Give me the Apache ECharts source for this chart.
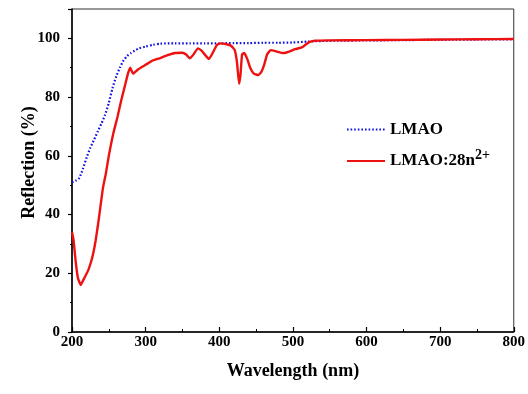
<!DOCTYPE html>
<html><head><meta charset="utf-8">
<script src="https://cdn.jsdelivr.net/npm/echarts@6/dist/echarts.min.js"></script>
<style>html,body{margin:0;padding:0;background:#fff}#c{width:528px;height:394px}</style>
</head><body><div id="c"></div>
<script>
var lmaoWl = [200,205,210,215,220,225,230,235,240,245,250,255,260,265,270,275,280,285,290,300,310,320,340,360,380,400,420,440,460,480,500,520,540,560,600,650,700,750,800];
var lmaoVal = [51.0,51.5,52.5,55.7,59.5,62.8,65.5,68.3,71,74,78,83,87,90,92.5,94,95,95.8,96.5,97.2,97.8,98.2,98.3,98.3,98.3,98.3,98.4,98.4,98.5,98.5,98.6,98.9,99.1,99.2,99.3,99.4,99.5,99.6,99.7];
var znWl = [200,202,205,208,212,215,218,222,226,229,232,235,238,242,246,250,256,262,267,272,276,279,283,290,300,310,320,330,340,350,355,360,365,371,376,382,386,392,397,402,410,416,421,424,427,429,431,434,438,442,447,453,457,461,465,470,478,487,495,503,513,518,523,530,550,600,650,700,750,800];
var znVal = [34,31.5,24,18.5,16,17.5,19,21,24,27,31,36,41.5,49,54,60,67.5,73.5,79,84,88,90,88,89.5,91,92.5,93.3,94.3,95,95.1,94.5,93.2,94.5,96.6,95.8,94,93,95.5,97.8,98.3,98,97.5,96,92,84.5,88,94.5,95,93,90,88,87.5,88.5,91,94.5,96,95.5,95,95.5,96.3,97,98,98.8,99.2,99.3,99.4,99.5,99.6,99.7,99.8];
var seriesNames = ['LMAO','LMAO:28n'];

function pairs(xs, ys){ return xs.map(function(x,i){return [x, ys[i]];}); }
var font = 'Liberation Serif';
var chart = echarts.init(document.getElementById('c'));
chart.setOption({
  animation:false,
  backgroundColor:'#fff',
  grid:{left:72,right:14,top:9,bottom:62,show:true,borderColor:'#333',borderWidth:1},
  legend:{
    orient:'vertical', left:341, top:116, itemWidth:38, itemHeight:10, itemGap:10,
    data:seriesNames,
    itemStyle:{opacity:0},
    textStyle:{fontFamily:font,fontWeight:'bold',fontSize:17,color:'#000',
      rich:{a:{fontFamily:font,fontWeight:'bold',fontSize:17,color:'#000'},
            s:{fontFamily:font,fontWeight:'bold',fontSize:14,color:'#000',verticalAlign:'top',padding:[0,0,12,0]}}},
    formatter:function(n){ return n==='LMAO:28n' ? '{a|LMAO:28n}{s|2+}' : '{a|'+n+'}'; }
  },
  xAxis:{type:'value',min:200,max:800,interval:100,
    name:'Wavelength (nm)',nameLocation:'middle',nameGap:30,nameMoveOverlap:false,
    nameTextStyle:{fontFamily:font,fontWeight:'bold',fontSize:18,color:'#000'},
    axisLine:{lineStyle:{color:'#000',width:1.5}},
    axisTick:{inside:true,length:5,lineStyle:{color:'#000',width:1.2}},
    minorTick:{show:true,splitNumber:2,length:3,lineStyle:{color:'#000'}},
    axisLabel:{fontFamily:font,fontWeight:'bold',fontSize:15,color:'#000',margin:3},
    splitLine:{show:false}},
  yAxis:{type:'value',min:0,max:110,interval:20,
    name:'Reflection (%)',nameLocation:'middle',nameGap:34,nameMoveOverlap:false,
    nameTextStyle:{fontFamily:font,fontWeight:'bold',fontSize:18,color:'#000',padding:[0,0,0,16]},
    axisLine:{show:true,lineStyle:{color:'#000',width:1.5}},
    axisTick:{show:true,inside:false,length:4,lineStyle:{color:'#000',width:1.2}},
    minorTick:{show:true,splitNumber:2,length:2,lineStyle:{color:'#000'}},
    axisLabel:{fontFamily:font,fontWeight:'bold',fontSize:15,color:'#000',margin:12,showMaxLabel:false},
    splitLine:{show:false}},
  series:[
    {name:seriesNames[0],type:'line',symbol:'none',smooth:0.2,data:pairs(lmaoWl,lmaoVal),
      itemStyle:{color:'#1010e0'},
      lineStyle:{color:'#1010e0',width:2.2,type:[1.6,2],cap:'butt'}},
    {name:seriesNames[1],type:'line',symbol:'none',smooth:0.15,data:pairs(znWl,znVal),
      itemStyle:{color:'#ee1111'},
      lineStyle:{color:'#ee1111',width:2.4}}
  ]
});
</script></body></html>
